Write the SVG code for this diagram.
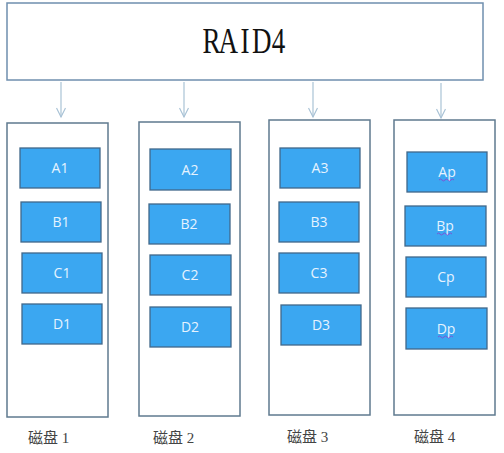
<svg xmlns="http://www.w3.org/2000/svg" width="504" height="453" viewBox="0 0 504 453">
<defs>
<style>
.top{fill:#fff;stroke:#6f8fae;stroke-width:1.5}
.disk{fill:#fff;stroke:#5f7a8f;stroke-width:1.5}
.blk{fill:#3ba7f1;stroke:#41688a;stroke-width:1.3}
.bt{font-family:"Open Sans","Liberation Sans",sans-serif;font-size:14px;fill:#e6f3ff;text-anchor:middle}
.lbl{font-family:"Liberation Serif","Noto Sans CJK SC",serif;font-size:15px;fill:#444}
.arr{stroke:#a9c3d6;stroke-width:1.2;fill:none}
.sq{stroke:#8a3fd0;stroke-width:0.8;fill:none}
</style>
<marker id="ah" markerWidth="12" markerHeight="10" refX="10" refY="5" orient="auto" markerUnits="userSpaceOnUse">
<path d="M1,0.5 L10,5 L1,9.5" fill="none" stroke="#a9c3d6" stroke-width="1.2"/>
</marker>
</defs>
<rect width="504" height="453" fill="#fff"/>
<g id="raid4">
<rect class="top" x="7" y="3" width="476" height="77"/>
<text transform="scale(0.75,1)" x="281.9 304.3 326.7 349.1 371.5" y="53" font-family="'Liberation Serif',serif" font-size="36" text-anchor="middle" fill="#111">RAID4</text>
</g>
<g id="connectors">
<line class="arr" x1="61" y1="82" x2="61" y2="117" marker-end="url(#ah)"/>
<line class="arr" x1="184" y1="82" x2="184" y2="117" marker-end="url(#ah)"/>
<line class="arr" x1="313" y1="82" x2="313" y2="117" marker-end="url(#ah)"/>
<line class="arr" x1="441" y1="83" x2="441" y2="118" marker-end="url(#ah)"/>
</g>
<g id="disk1">
<rect class="disk" x="7" y="123" width="101" height="294"/>
<rect class="blk" x="20" y="148" width="80" height="40"/><text class="bt" x="60" y="173">A1</text>
<rect class="blk" x="21" y="202" width="80" height="40"/><text class="bt" x="61" y="227">B1</text>
<rect class="blk" x="22" y="253" width="80" height="40"/><text class="bt" x="62" y="278">C1</text>
<rect class="blk" x="22" y="304" width="80" height="40"/><text class="bt" x="62" y="329">D1</text>
<text class="lbl" x="28" y="443">磁盘 1</text>
</g>
<g id="disk2">
<rect class="disk" x="139" y="122" width="101" height="294"/>
<rect class="blk" x="150" y="149" width="81" height="41"/><text class="bt" x="190" y="175">A2</text>
<rect class="blk" x="149" y="204" width="81" height="40"/><text class="bt" x="189" y="229">B2</text>
<rect class="blk" x="150" y="255" width="81" height="40"/><text class="bt" x="190" y="280">C2</text>
<rect class="blk" x="150" y="307" width="81" height="40"/><text class="bt" x="190" y="332">D2</text>
<text class="lbl" x="153" y="443">磁盘 2</text>
</g>
<g id="disk3">
<rect class="disk" x="269" y="120" width="101" height="295"/>
<rect class="blk" x="280" y="148" width="80" height="40"/><text class="bt" x="320" y="173">A3</text>
<rect class="blk" x="279" y="202" width="80" height="40"/><text class="bt" x="319" y="227">B3</text>
<rect class="blk" x="279" y="253" width="80" height="40"/><text class="bt" x="319" y="278">C3</text>
<rect class="blk" x="281" y="305" width="80" height="40"/><text class="bt" x="321" y="330">D3</text>
<text class="lbl" x="287" y="442">磁盘 3</text>
</g>
<g id="disk4">
<rect class="disk" x="394" y="120" width="101" height="295"/>
<rect class="blk" x="407" y="152" width="80" height="40"/><text class="bt" x="447" y="177">Ap</text>
<path class="sq" d="M439,180 q1.5,-2 3,0 t3,0 t3,0 t3,0 t3,0"/>
<rect class="blk" x="405" y="206" width="81" height="40"/><text class="bt" x="445" y="231">Bp</text>
<path class="sq" d="M437,234 q1.5,-2 3,0 t3,0 t3,0 t3,0 t3,0"/>
<rect class="blk" x="406" y="257" width="80" height="40"/><text class="bt" x="446" y="282">Cp</text>
<rect class="blk" x="406" y="308" width="81" height="41"/><text class="bt" x="446" y="334">Dp</text>
<path class="sq" d="M438,337 q1.5,-2 3,0 t3,0 t3,0 t3,0 t3,0"/>
<text class="lbl" x="414" y="442">磁盘 4</text>
</g>
</svg>
